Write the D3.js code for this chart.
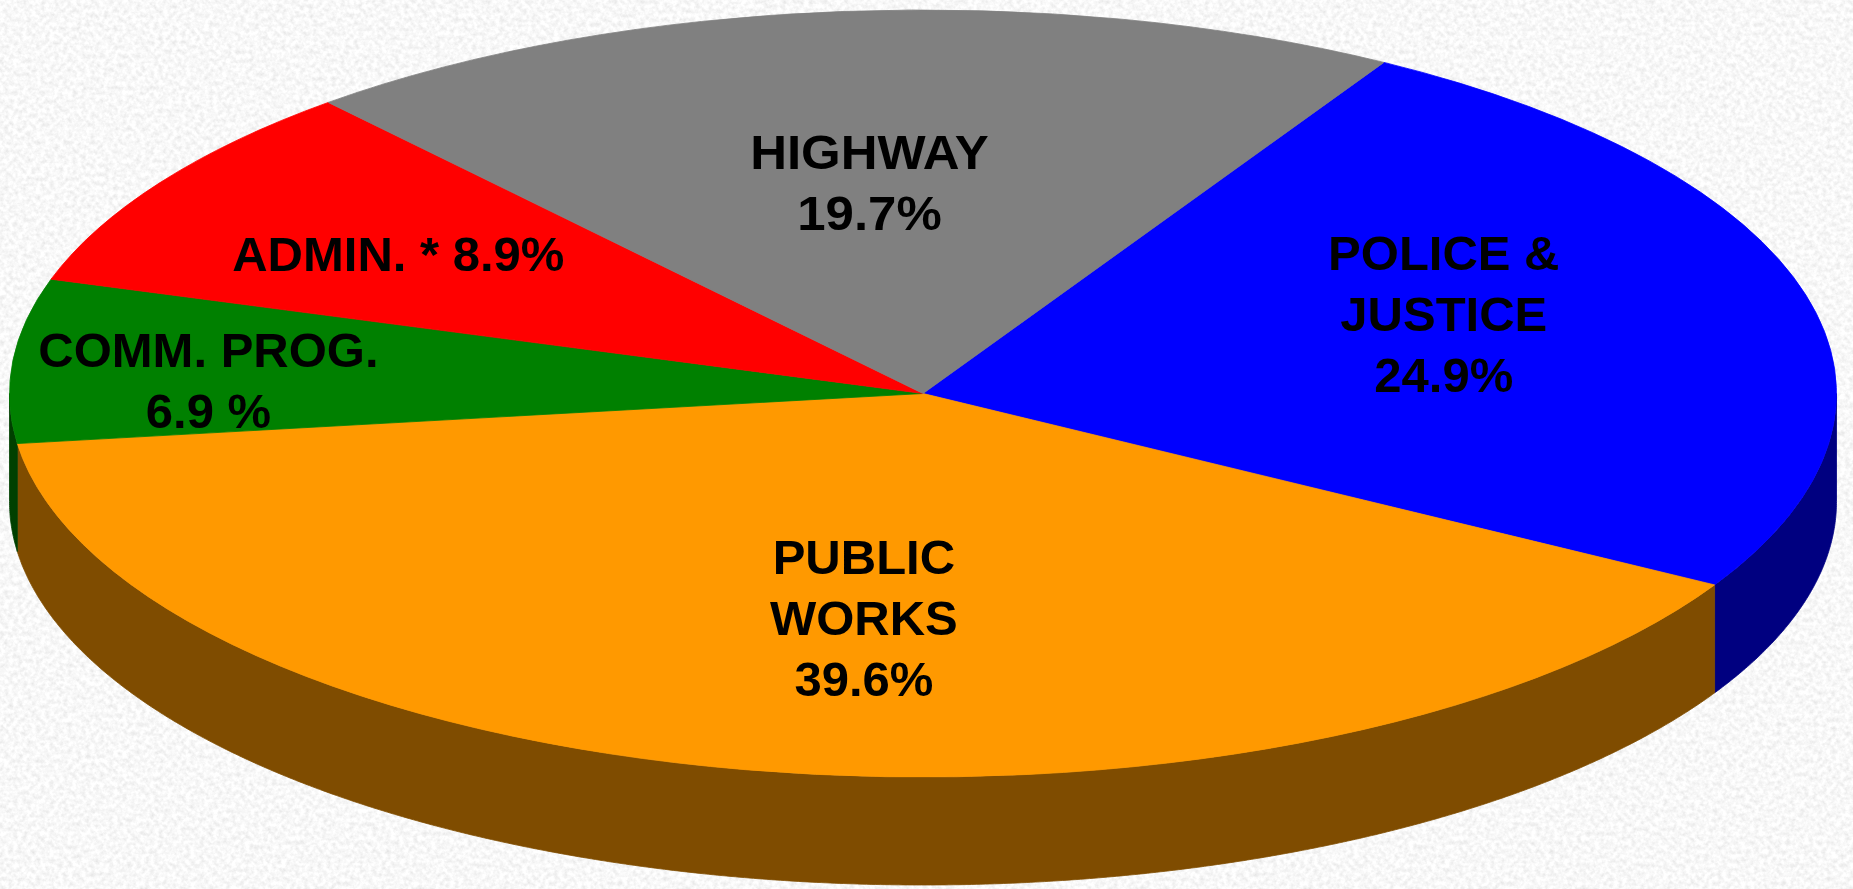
<!DOCTYPE html>
<html>
<head>
<meta charset="utf-8">
<script src="https://cdn.jsdelivr.net/npm/d3@7"></script>
<style>
  html, body { margin: 0; padding: 0; background: #ececec; overflow: hidden; }
  .label { font-family: "Liberation Sans", Arial, sans-serif; font-weight: bold; fill: #000; }
</style>
</head>
<body>
<div class="pie-chart"></div>
<script>
// budget shares, clockwise starting at the highway / police boundary
const categories = ["POLICE & JUSTICE", "PUBLIC WORKS", "COMM. PROG.", "ADMIN. *", "HIGHWAY"];
const shares = [24.9, 39.6, 6.9, 8.9, 19.7];
const labelLines = [
  ["POLICE &", "JUSTICE", "24.9%"],
  ["PUBLIC", "WORKS", "39.6%"],
  ["COMM. PROG.", "6.9 %"],
  ["ADMIN. * 8.9%"],
  ["HIGHWAY", "19.7%"]
];
const topColors = ["#0000ff", "#ff9900", "#008000", "#ff0000", "#808080"];
const sideColors = ["#000080", "#7f4c00", "#004000", "#800000", "#404040"];

const width = 1853, height = 889;
const cx = 923, cy = 393.5, rx = 913.5, ry = 383.5, depth = 108;
const startDeg = 30.3;

// label placement: degrees off the slice middle, radius fraction, horizontal stretch
const labelLayout = [
  { da: -5.2, r: 0.607, sx: 1.0 },
  { da: -4.9, r: 0.588, sx: 1.0 },
  { da: -2.4, r: 0.783, sx: 1.0 },
  { da: -1.0, r: 0.680, sx: 1.0 },
  { da: -0.9, r: 0.555, sx: 1.04 }
];
const fontSize = 49, lineHeight = 61;

const svg = d3.select(".pie-chart")
  .append("svg")
  .attr("width", width)
  .attr("height", height);

// speckled paper background
const defs = svg.append("defs");
const paper = defs.append("filter")
  .attr("id", "paper")
  .attr("x", 0).attr("y", 0).attr("width", "100%").attr("height", "100%");
paper.append("feTurbulence")
  .attr("type", "fractalNoise")
  .attr("baseFrequency", 0.22)
  .attr("numOctaves", 3)
  .attr("seed", 7);
paper.append("feColorMatrix")
  .attr("type", "matrix")
  .attr("values", "0.36 0 0 0 0.76  0.36 0 0 0 0.76  0.36 0 0 0 0.76  0 0 0 0 1");

svg.append("rect")
  .attr("width", width)
  .attr("height", height)
  .attr("fill", "#ececec")
  .attr("filter", "url(#paper)");

const pie = d3.pie()
  .sort(null)
  .value(d => d)
  .startAngle(startDeg * Math.PI / 180)
  .endAngle(startDeg * Math.PI / 180 + 2 * Math.PI);

const arcs = pie(shares);

function pt(a, r) {
  return [cx + r * rx * Math.sin(a), cy - r * ry * Math.cos(a)];
}

// side walls (only the front half shows)
const sides = svg.append("g").attr("class", "sides");
arcs.forEach((d, i) => {
  const s = Math.max(d.startAngle, Math.PI / 2);
  const e = Math.min(d.endAngle, 3 * Math.PI / 2);
  if (e <= s) return;
  const angles = d3.range(s, e, 0.005).concat([e]);
  const topEdge = angles.map(a => pt(a, 1));
  const bottomEdge = angles.slice().reverse().map(a => {
    const p = pt(a, 1);
    return [p[0], p[1] + depth];
  });
  sides.append("path")
    .attr("d", d3.line()(topEdge.concat(bottomEdge)) + "Z")
    .attr("fill", sideColors[i])
    .attr("stroke", sideColors[i])
    .attr("stroke-width", 0.8);
});

// top face
const arc = d3.arc().innerRadius(0).outerRadius(rx);
svg.append("g")
  .attr("transform", `translate(${cx},${cy}) scale(1,${ry / rx})`)
  .selectAll("path")
  .data(arcs)
  .enter()
  .append("path")
  .attr("d", arc)
  .attr("fill", (d, i) => topColors[i])
  .attr("stroke", (d, i) => topColors[i])
  .attr("stroke-width", 0.8)
  .attr("vector-effect", "non-scaling-stroke");

// labels
const labels = svg.append("g").attr("class", "labels");
arcs.forEach((d, i) => {
  const lay = labelLayout[i];
  const mid = (d.startAngle + d.endAngle) / 2 + lay.da * Math.PI / 180;
  const [x, y] = pt(mid, lay.r);
  const lines = labelLines[i];
  const y0 = -(lines.length - 1) * lineHeight / 2 + fontSize * 0.716 / 2;
  const t = labels.append("text")
    .attr("class", "label")
    .attr("text-anchor", "middle")
    .attr("font-size", fontSize + "px")
    .attr("transform", `translate(${x},${y}) scale(${lay.sx},1)`);
  lines.forEach((ln, j) => {
    t.append("tspan")
      .attr("x", 0)
      .attr("y", y0 + j * lineHeight)
      .text(ln);
  });
});
</script>
</body>
</html>
